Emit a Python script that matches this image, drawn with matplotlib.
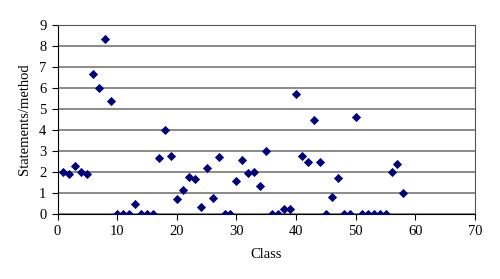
import numpy as np
import matplotlib.pyplot as plt
import matplotlib as mpl

mpl.rc('font', family='Liberation Serif', size=10.5)

cls = list(range(1, 59))
stm = [2.0, 1.9, 2.3, 2.0, 1.9, 6.67, 6.0, 8.32, 5.36,
       0, 0, 0, 0.49, 0, 0, 0,
       2.68, 4.0, 2.74, 0.73, 1.16, 1.76, 1.65, 0.33,
       2.19, 0.76, 2.73, 0, 0, 1.55, 2.57, 1.95, 2.0, 1.32, 3.01,
       0, 0, 0.24, 0.24, 5.69, 2.77, 2.47, 4.49, 2.47, 0, 0.82, 1.70,
       0, 0, 4.63, 0, 0, 0, 0, 0, 2.0, 2.38, 1.01]

fig = plt.figure(figsize=(5, 2.79), dpi=100)
ax = fig.add_axes([0.115, 0.233, 0.835, 0.678])
ax.scatter(cls, stm, marker='D', s=22, color='#00007a', zorder=3, linewidths=0)

ax.set_xlim([0, 70])
ax.set_ylim([0, 9])
ax.set_xticks(range(0, 71, 10))
ax.set_yticks(range(0, 10))
ax.yaxis.grid(True, color='#777777', linewidth=1.2)
ax.set_axisbelow(True)
for s in ['top', 'right']:
    ax.spines[s].set_color('#555555')
ax.spines['left'].set_color('black')
ax.spines['bottom'].set_color('black')
ax.tick_params(direction='out', length=4, pad=4)
ax.set_xlabel('Class', labelpad=7)
ax.set_ylabel('Statements/method', labelpad=6)

fig.savefig('out.png', dpi=100)
